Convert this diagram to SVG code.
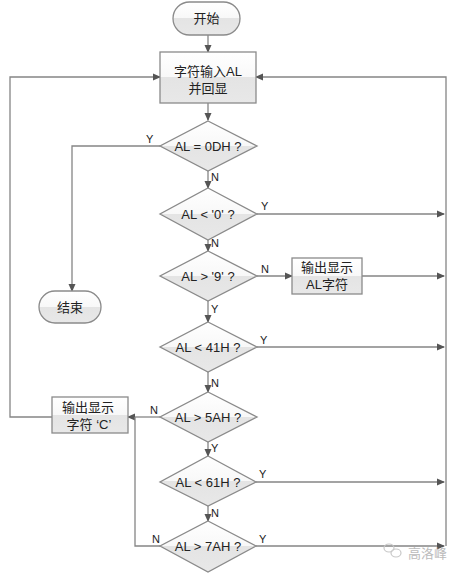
<svg xmlns="http://www.w3.org/2000/svg" width="455" height="573" viewBox="0 0 455 573">
<defs>
<linearGradient id="fillg" x1="0" y1="0" x2="0" y2="1">
<stop offset="0" stop-color="#ffffff"/>
<stop offset="0.5" stop-color="#f8f8f8"/>
<stop offset="0.5" stop-color="#e4e4e4"/>
<stop offset="1" stop-color="#e8e8e8"/>
</linearGradient>
<marker id="arr" markerWidth="8" markerHeight="8" refX="7" refY="4" orient="auto" markerUnits="userSpaceOnUse">
<path d="M0,0.5 L8,4 L0,7.5 Z" fill="#555"/>
</marker>
</defs>
<style>
.shape{fill:url(#fillg);stroke:#8a8a8a;stroke-width:1.3}
.line{fill:none;stroke:#858585;stroke-width:1.3}
.a{marker-end:url(#arr)}
.t{font-family:"Liberation Sans","Noto Sans CJK SC",sans-serif;font-size:13px;fill:#222;text-anchor:middle}
.lbl{font-family:"Liberation Sans",sans-serif;font-size:11px;fill:#222}
.wm{font-family:"Noto Sans CJK SC",sans-serif;font-size:13px;fill:#bbb}
</style>
<rect width="455" height="573" fill="#ffffff"/>
<g id="connectors">
<line class="line a" x1="208" y1="35" x2="208" y2="52"/>
<line class="line a" x1="208" y1="103" x2="208" y2="120"/>
<polyline class="line a" points="52,417 10,417 10,77 160,77"/>
<polyline class="line a" points="446,546 446,77 256,77"/>
<polyline class="line a" points="160,146 72,146 72,291"/>
<line class="line a" x1="208" y1="171" x2="208" y2="188"/>
<line class="line a" x1="257" y1="214" x2="444" y2="214"/>
<line class="line a" x1="208" y1="240" x2="208" y2="251"/>
<line class="line a" x1="257" y1="276" x2="292" y2="276"/>
<line class="line a" x1="362" y1="276" x2="444" y2="276"/>
<line class="line a" x1="208" y1="301" x2="208" y2="322"/>
<line class="line a" x1="257" y1="347" x2="444" y2="347"/>
<line class="line a" x1="208" y1="372" x2="208" y2="392"/>
<line class="line a" x1="160" y1="417" x2="128" y2="417"/>
<line class="line a" x1="208" y1="442" x2="208" y2="456"/>
<line class="line a" x1="256" y1="482" x2="444" y2="482"/>
<line class="line a" x1="208" y1="506" x2="208" y2="521"/>
<line class="line a" x1="256" y1="546" x2="444" y2="546"/>
<polyline class="line" points="160,546 135,546 135,417"/>
<text class="lbl" x="146" y="143">Y</text>
<text class="lbl" x="211" y="181">N</text>
<text class="lbl" x="261" y="210">Y</text>
<text class="lbl" x="211" y="247">N</text>
<text class="lbl" x="261" y="273">N</text>
<text class="lbl" x="211" y="313">Y</text>
<text class="lbl" x="260" y="344">Y</text>
<text class="lbl" x="211" y="387">N</text>
<text class="lbl" x="150" y="414">N</text>
<text class="lbl" x="211" y="452">Y</text>
<text class="lbl" x="259" y="478">Y</text>
<text class="lbl" x="211" y="517">N</text>
<text class="lbl" x="152" y="543">N</text>
<text class="lbl" x="259" y="543">Y</text>
</g>
<g id="start">
<rect class="shape" x="173" y="2" width="67" height="33" rx="16.5"/>
<text class="t" x="206.5" y="23">开始</text>
</g>
<g id="input">
<rect class="shape" x="160" y="52" width="96" height="51"/>
<text class="t" x="208" y="76">字符输入AL</text>
<text class="t" x="208" y="93">并回显</text>
</g>
<g id="d1">
<polygon class="shape" points="208,121 257,146 208,171 160,146"/>
<text class="t" x="208" y="151">AL = 0DH ?</text>
</g>
<g id="d2">
<polygon class="shape" points="208,188 257,214 208,240 160,214"/>
<text class="t" x="208" y="219">AL &lt; '0' ?</text>
</g>
<g id="end">
<rect class="shape" x="39" y="291" width="62" height="32" rx="16"/>
<text class="t" x="70" y="312">结束</text>
</g>
<g id="d3">
<polygon class="shape" points="208,251 257,276 208,301 160,276"/>
<text class="t" x="208" y="281">AL &gt; '9' ?</text>
</g>
<g id="outAL">
<rect class="shape" x="292" y="258" width="70" height="36"/>
<text class="t" x="327" y="272">输出显示</text>
<text class="t" x="327" y="289">AL字符</text>
</g>
<g id="d4">
<polygon class="shape" points="208,322 257,347 208,372 160,347"/>
<text class="t" x="208" y="352">AL &lt; 41H ?</text>
</g>
<g id="d5">
<polygon class="shape" points="208,392 257,417 208,442 160,417"/>
<text class="t" x="208" y="422">AL &gt; 5AH ?</text>
</g>
<g id="outC">
<rect class="shape" x="52" y="397" width="76" height="36"/>
<text class="t" x="88" y="412">输出显示</text>
<text class="t" x="89" y="429">字符 ‘C’</text>
</g>
<g id="d6">
<polygon class="shape" points="208,456 256,482 208,506 160,482"/>
<text class="t" x="208" y="487">AL &lt; 61H ?</text>
</g>
<g id="d7">
<polygon class="shape" points="208,521 256,546 208,572 160,546"/>
<text class="t" x="208" y="551">AL &gt; 7AH ?</text>
</g>
<g id="watermark">
<ellipse cx="389" cy="548" rx="5" ry="4" fill="none" stroke="#c8c8c8" stroke-width="1.2"/>
<ellipse cx="396" cy="553" rx="5" ry="4" fill="none" stroke="#c8c8c8" stroke-width="1.2"/>
<text class="wm" x="408" y="558">高洛峰</text>
</g>
</svg>
